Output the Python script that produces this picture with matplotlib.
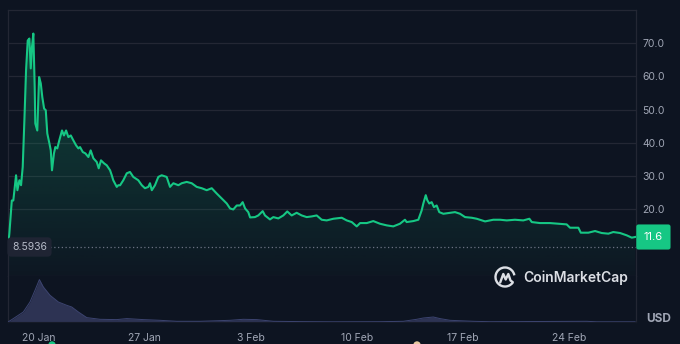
import numpy as np
import matplotlib
matplotlib.use("Agg")
import matplotlib.pyplot as plt
from matplotlib.patches import Polygon, Arc, Circle
from matplotlib.colors import to_rgb

plt.rcParams['font.family'] = ['Inter', 'DejaVu Sans']

# days since 20 Jan, price in USD
day = [-2.00, -1.91, -1.75, -1.65, -1.47, -1.38, -1.25, -1.14, -1.03, -0.92,
       -0.81, -0.70, -0.59, -0.50, -0.42, -0.33, -0.24, -0.20, -0.07, 0.05,
       0.16, 0.26, 0.38, 0.49, 0.59, 0.73, 0.82, 0.90, 1.03, 1.12,
       1.25, 1.38, 1.56, 1.69, 1.83, 1.98, 2.14, 2.31, 2.49, 2.64,
       2.75, 2.93, 3.10, 3.30, 3.45, 3.63, 3.85, 3.98, 4.13, 4.33,
       4.51, 4.73, 4.84, 4.94, 5.17, 5.27, 5.39, 5.60, 5.83, 6.04,
       6.26, 6.59, 6.82, 7.03, 7.25, 7.36, 7.48, 7.69, 7.91, 8.13,
       8.46, 8.68, 8.90, 9.23, 9.45, 9.78, 10.11, 10.44, 10.77, 11.10,
       11.43, 11.76, 12.09, 12.42, 12.64, 12.85, 13.08, 13.30, 13.47, 13.63,
       13.84, 13.96, 14.28, 14.50, 14.79, 14.94, 15.27, 15.49, 15.82, 16.15,
       16.41, 16.70, 17.03, 17.36, 17.69, 18.02, 18.35, 18.68, 19.01, 19.45,
       20.00, 20.33, 20.66, 20.99, 21.21, 21.65, 22.08, 22.52, 22.97, 23.40,
       23.84, 24.17, 24.28, 24.72, 25.05, 25.27, 25.38, 25.54, 25.64, 25.77,
       25.93, 26.08, 26.26, 26.43, 26.70, 27.14, 27.47, 27.80, 28.13, 28.57,
       28.90, 29.45, 29.99, 30.44, 30.88, 31.42, 31.97, 32.37, 32.53, 33.07,
       33.73, 34.28, 34.83, 35.05, 35.60, 35.76, 36.26, 36.70, 37.14, 37.58,
       37.90, 38.35, 38.79, 39.12, 39.34]
price = [8.5936, 12.7, 22.6, 22.6, 30.2, 25.7, 28.7, 27.2, 32.7, 46.7,
         61.8, 70.8, 71.4, 62.4, 68.8, 72.9, 56.8, 45.8, 43.7, 59.8,
         57.9, 53.8, 50.3, 49.8, 42.8, 39.8, 37.7, 31.7, 36.8, 38.7,
         38.3, 40.7, 43.7, 42.2, 43.7, 41.7, 42.2, 40.7, 39.2, 38.3,
         38.7, 37.2, 36.8, 35.7, 37.7, 35.3, 34.2, 32.3, 34.7, 33.8,
         33.2, 31.7, 30.2, 28.7, 26.7, 27.2, 27.2, 28.7, 30.8, 31.2,
         29.7, 28.7, 27.2, 26.3, 26.7, 27.8, 25.7, 27.2, 29.7, 30.2,
         29.7, 26.7, 27.8, 27.2, 27.8, 28.2, 27.8, 26.7, 26.3, 25.7,
         26.3, 24.7, 23.2, 21.7, 20.2, 19.9, 21.1, 21.1, 22.1, 20.2,
         19.1, 17.5, 17.6, 18.1, 19.4, 18.1, 16.9, 17.6, 17.2, 18.1,
         19.3, 18.1, 18.9, 18.1, 17.6, 17.8, 18.1, 16.8, 16.6, 17.1,
         17.4, 16.6, 16.1, 14.8, 15.8, 15.8, 16.4, 15.6, 15.1, 14.8,
         15.6, 16.8, 16.1, 16.4, 16.8, 19.6, 21.7, 24.2, 22.7, 21.7,
         22.1, 20.6, 21.1, 19.1, 18.6, 18.9, 19.1, 18.6, 17.6, 17.4,
         17.1, 16.3, 16.8, 16.8, 16.6, 16.8, 16.6, 17.1, 16.1, 15.8,
         15.8, 15.6, 15.4, 14.4, 14.4, 12.9, 12.9, 13.4, 12.8, 12.6,
         13.1, 12.8, 12.1, 11.4, 11.6]

# volume (millions USD), rough
vol_day = [-2.00, -1.65, -0.99, -0.55, -0.22, 0.07, 0.33, 0.77, 1.32, 1.87,
           2.20, 2.64, 3.19, 4.07, 5.17, 5.83, 6.92, 8.02, 9.12, 10.66,
           12.64, 13.51, 14.40, 15.49, 17.25, 19.43, 22.52, 24.06, 24.94, 25.38,
           26.04, 26.48, 27.14, 28.68, 29.78, 36.15, 36.81, 39.34]
volume = [0, 34, 100, 200, 317, 424, 350, 267, 200, 167,
          150, 100, 44, 27, 24, 34, 24, 17, 7, 7,
          17, 27, 24, 7, 4, 2, 3, 7, 27, 40,
          50, 34, 17, 7, 3, 7, 2, 2]

xtick_days = [0, 7, 14, 21, 28, 35]
xtick_labels = ["20 Jan", "27 Jan", "3 Feb", "10 Feb", "17 Feb", "24 Feb"]
ytick_vals = [20, 30, 40, 50, 60, 70]

bg = "#0d1421"
green = "#16c784"
gridc = "#232734"
textc = "#a0a6b5"

fig = plt.figure(figsize=(6.8, 3.44), dpi=100, facecolor=bg)
ax = fig.add_axes([8/680, 1-275.5/344, 628/680, 265.5/344], facecolor=bg)
axv = fig.add_axes([8/680, 1-322/344, 628/680, 46.5/344], facecolor=bg)

xmin, xmax = -2.0, 39.40

# price line + gradient fill
ax.plot(day, price, color=green, lw=1.5, zorder=3, solid_joinstyle='round')
verts = np.column_stack([np.r_[day[0], day, day[-1]], np.r_[0, price, 0]])
poly = Polygon(verts, closed=True, facecolor='none', edgecolor='none', transform=ax.transData)
ax.add_patch(poly)
grad = np.zeros((256, 1, 4))
grad[..., :3] = to_rgb(green)
grad[..., 3] = np.linspace(0.02, 0.3, 256)[:, None]
im = ax.imshow(grad, extent=[day[0], day[-1], 0, max(price)], origin='lower',
               aspect='auto', zorder=2)
im.set_clip_path(poly)

ax.set_xlim(xmin, xmax)
ax.set_ylim(0, 80)
ax.set_yticks(ytick_vals)
ax.set_yticklabels(["%.1f" % v for v in ytick_vals])
ax.yaxis.tick_right()
ax.tick_params(axis='y', length=0, pad=4.5, labelsize=7.5, labelcolor=textc)
ax.set_xticks([])
ax.grid(axis='y', color=gridc, lw=0.9, zorder=1)
for s in ax.spines.values():
    s.set_color(gridc)
    s.set_linewidth(0.9)

# start price reference
ax.axhline(price[0], xmin=0.067, xmax=1, color="#6b7182", lw=0.9, ls=(0, (1, 2)), zorder=2)
ax.text(0.0342, price[0], "%.4f" % price[0], transform=ax.get_yaxis_transform(),
        ha='center', va='center', fontsize=7.5, color="#b4b9c6", zorder=5,
        bbox=dict(boxstyle='round,pad=0.45,rounding_size=0.4', fc="#1f2433", ec='none'))
# last price tag
ax.text(1.0125, price[-1], "%.1f" % price[-1], transform=ax.get_yaxis_transform(),
        ha='left', va='center', fontsize=8, color='white', clip_on=False, zorder=5,
        bbox=dict(boxstyle='round,pad=0.68,rounding_size=0.2', fc=green, ec='none'))

# volume
axv.fill_between(vol_day, volume, 0, color="#2d3353", lw=0, zorder=2)
axv.plot(vol_day, volume, color="#3c4470", lw=0.7, zorder=3)
axv.set_xlim(xmin, xmax)
axv.set_ylim(0, 465)
axv.set_yticks([])
axv.set_xticks(xtick_days)
axv.set_xticklabels(xtick_labels)
axv.tick_params(axis='x', length=0, pad=8, labelsize=7.5, labelcolor=textc)
for k in ['left', 'right']:
    axv.spines[k].set_color(gridc)
    axv.spines[k].set_linewidth(0.9)
axv.spines['top'].set_visible(False)
axv.spines['bottom'].set_color("#161b28")

fig.text(658.5/680, 1-319/344, "USD", ha='center', va='center', fontsize=8.5,
         color=textc, fontweight='bold')

# CoinMarketCap watermark
ov = fig.add_axes([0, 0, 1, 1], facecolor='none')
ov.set_xlim(0, 680)
ov.set_ylim(0, 344)
ov.axis('off')
wc = "#dcdfe5"
ov.add_patch(Arc((505, 67), 19, 19, theta1=10, theta2=325, color=wc, lw=1.7))
mx = [500.2, 503.3, 505.7, 508.3, 510.5, 512.8]
my = [61.5, 70.0, 64.5, 70.0, 63.5, 61.8]
ov.plot(mx, my, color=wc, lw=1.7, solid_joinstyle='round', solid_capstyle='round')
ov.text(523, 66, "CoinMarketCap", ha='left', va='center', fontsize=10,
        color=wc, fontweight='semibold')
# cut event markers at the bottom edge
ov.add_patch(Circle((52, -1), 3, color=green, clip_on=True))
ov.add_patch(Circle((417, -1), 3, color="#e8c9a0", clip_on=True))

fig.savefig("out.png", dpi=100, facecolor=bg)
